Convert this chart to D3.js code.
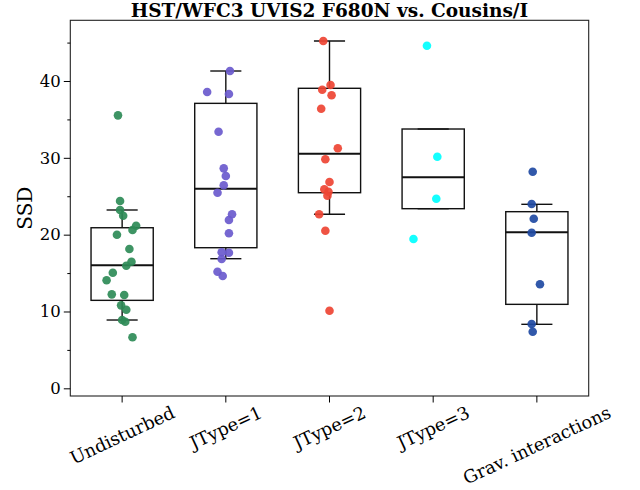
<!DOCTYPE html>
<html>
<head>
<meta charset="utf-8">
<script src="https://cdn.jsdelivr.net/npm/d3@7"></script>
<style>
  html, body { margin: 0; padding: 0; background: #fff; }
  svg { display: block; }
  text { font-family: "DejaVu Serif", serif; fill: #000; }
</style>
</head>
<body>
<svg id="chart" width="640" height="490"></svg>
<script>
// ---- data ----
const title = "HST/WFC3 UVIS2 F680N vs. Cousins/I";
const yLabel = "SSD";
const categories = ["Undisturbed", "JType=1", "JType=2", "JType=3", "Grav. interactions"];
const colors = ["#2e8b57", "#6a5acd", "#ee4433", "#00ffff", "#1f4aa3"];
const yTicks = [0, 10, 20, 30, 40];
const yMinorTicks = [5, 15, 25, 35, 45];

const undisturbedValues = [35.53, 24.38, 23.21, 22.47, 21.16, 20.60, 19.99, 18.13, 16.48, 15.96, 15.05, 14.06, 12.23, 12.14, 10.80, 10.23, 8.89, 8.67, 6.64];
const undisturbedJitter = [-0.04, -0.02, -0.02, 0.01, 0.135, 0.10, -0.05, 0.07, 0.09, 0.04, -0.09, -0.15, -0.10, 0.02, -0.01, 0.04, 0.00, 0.03, 0.10];
const jtype1Values = [41.30, 38.57, 38.31, 33.40, 28.63, 27.63, 26.42, 25.46, 22.65, 21.91, 20.18, 17.70, 17.65, 16.83, 15.18, 14.62];
const jtype1Jitter = [0.04, -0.18, 0.03, -0.07, -0.02, 0.00, -0.02, -0.08, 0.06, 0.03, 0.03, -0.04, 0.03, -0.04, -0.08, -0.03];
const jtype2Values = [45.20, 39.48, 38.86, 38.14, 36.39, 31.24, 29.81, 26.85, 25.90, 25.59, 25.07, 22.65, 20.51, 10.10];
const jtype2Jitter = [-0.06, 0.01, -0.07, 0.02, -0.08, 0.08, -0.04, 0.00, -0.05, -0.01, -0.02, -0.10, -0.04, 0.00];
const jtype3Values = [44.59, 30.14, 24.68, 19.43];
const jtype3Jitter = [-0.06, 0.04, 0.03, -0.19];
const gravValues = [28.19, 23.99, 22.07, 20.25, 13.54, 8.37, 7.37];
const gravJitter = [-0.04, -0.05, -0.03, -0.05, 0.03, -0.05, -0.04];

const seriesValues = [undisturbedValues, jtype1Values, jtype2Values, jtype3Values, gravValues];
const seriesJitter = [undisturbedJitter, jtype1Jitter, jtype2Jitter, jtype3Jitter, gravJitter];

// box statistics
const boxQ1 = [11.45, 18.30, 25.46, 23.38, 10.93];
const boxMedian = [16.01, 25.98, 30.54, 27.46, 20.30];
const boxQ3 = [20.90, 37.09, 39.05, 33.75, 22.99];
const whiskerLow = [8.89, 16.87, 22.65, 23.38, 8.33];
const whiskerHigh = [23.21, 41.30, 45.20, 33.75, 23.95];

// ---- layout ----
const svg = d3.select("#chart");
const L = 70.3, R = 588.7, T = 20.3, B = 396;

const x = d3.scaleBand().domain(categories).range([L, R]).paddingInner(0).paddingOuter(0);
const bw = x.bandwidth();
const cx = c => x(c) + bw / 2;
const y = d3.scaleLinear().domain([-1, 47.9]).range([B, T]);

// boxes
const boxW = bw * 0.6, capW = boxW / 2;
const g = svg.append("g");
categories.forEach((c, i) => {
  const xc = cx(c);
  const stroke = "#111", sw = 1.4;
  g.append("line").attr("x1", xc).attr("x2", xc).attr("y1", y(boxQ3[i])).attr("y2", y(whiskerHigh[i]))
    .attr("stroke", stroke).attr("stroke-width", sw);
  g.append("line").attr("x1", xc).attr("x2", xc).attr("y1", y(boxQ1[i])).attr("y2", y(whiskerLow[i]))
    .attr("stroke", stroke).attr("stroke-width", sw);
  g.append("line").attr("x1", xc - capW / 2).attr("x2", xc + capW / 2).attr("y1", y(whiskerHigh[i])).attr("y2", y(whiskerHigh[i]))
    .attr("stroke", stroke).attr("stroke-width", sw);
  g.append("line").attr("x1", xc - capW / 2).attr("x2", xc + capW / 2).attr("y1", y(whiskerLow[i])).attr("y2", y(whiskerLow[i]))
    .attr("stroke", stroke).attr("stroke-width", sw);
  g.append("rect").attr("x", xc - boxW / 2).attr("y", y(boxQ3[i])).attr("width", boxW)
    .attr("height", y(boxQ1[i]) - y(boxQ3[i])).attr("fill", "none").attr("stroke", stroke).attr("stroke-width", sw);
  g.append("line").attr("x1", xc - boxW / 2).attr("x2", xc + boxW / 2).attr("y1", y(boxMedian[i])).attr("y2", y(boxMedian[i]))
    .attr("stroke", stroke).attr("stroke-width", 2);
});

// points
categories.forEach((c, i) => {
  const pts = seriesValues[i].map((v, j) => ({ v, j: seriesJitter[i][j] }));
  svg.append("g").selectAll("circle").data(pts).join("circle")
    .attr("cx", d => cx(c) + d.j * bw)
    .attr("cy", d => y(d.v))
    .attr("r", 4.3)
    .attr("fill", colors[i])
    .attr("fill-opacity", 0.92);
});

// frame
svg.append("rect").attr("x", L).attr("y", T).attr("width", R - L).attr("height", B - T)
  .attr("fill", "none").attr("stroke", "#222").attr("stroke-width", 1.1);

// y axis
const yAxis = d3.axisLeft(y).tickValues(yTicks).tickSize(6.5).tickPadding(3).tickFormat(d3.format("d"));
const ya = svg.append("g").attr("transform", `translate(${L},0)`).call(yAxis);
ya.select(".domain").remove();
ya.selectAll("text").style("font-family", "DejaVu Serif").style("font-size", "16.5px");
const yMinor = d3.axisLeft(y).tickValues(yMinorTicks).tickSize(3).tickFormat("");
const ym = svg.append("g").attr("transform", `translate(${L},0)`).call(yMinor);
ym.select(".domain").remove();

// x axis
const xAxis = d3.axisBottom(x).tickSize(6.5).tickFormat("");
const xa = svg.append("g").attr("transform", `translate(0,${B})`).call(xAxis);
xa.select(".domain").remove();

// rotated x labels, bounding box centered on tick
const ang = 25, rad = ang * Math.PI / 180, fs = 17.8;
const labelTop = B + 6.5 + 0.5;
categories.forEach(c => {
  const t = svg.append("text")
    .attr("text-anchor", "middle")
    .attr("dominant-baseline", "central")
    .style("font-size", fs + "px")
    .text(c);
  const len = t.node().getComputedTextLength();
  const h = fs * 1.0;
  const bh = len * Math.sin(rad) + h * Math.cos(rad);
  const yc = labelTop + bh / 2;
  t.attr("transform", `translate(${cx(c)},${yc}) rotate(${-ang})`);
});

// y label
svg.append("text")
  .attr("transform", `translate(25,${(T + B) / 2}) rotate(-90)`)
  .attr("text-anchor", "middle")
  .attr("dominant-baseline", "central")
  .style("font-size", "20px")
  .text(yLabel);

// title
svg.append("text")
  .attr("x", (L + R) / 2).attr("y", 17)
  .attr("text-anchor", "middle")
  .style("font-size", "18.5px")
  .style("font-weight", "bold")
  .text(title);
</script>
</body>
</html>
